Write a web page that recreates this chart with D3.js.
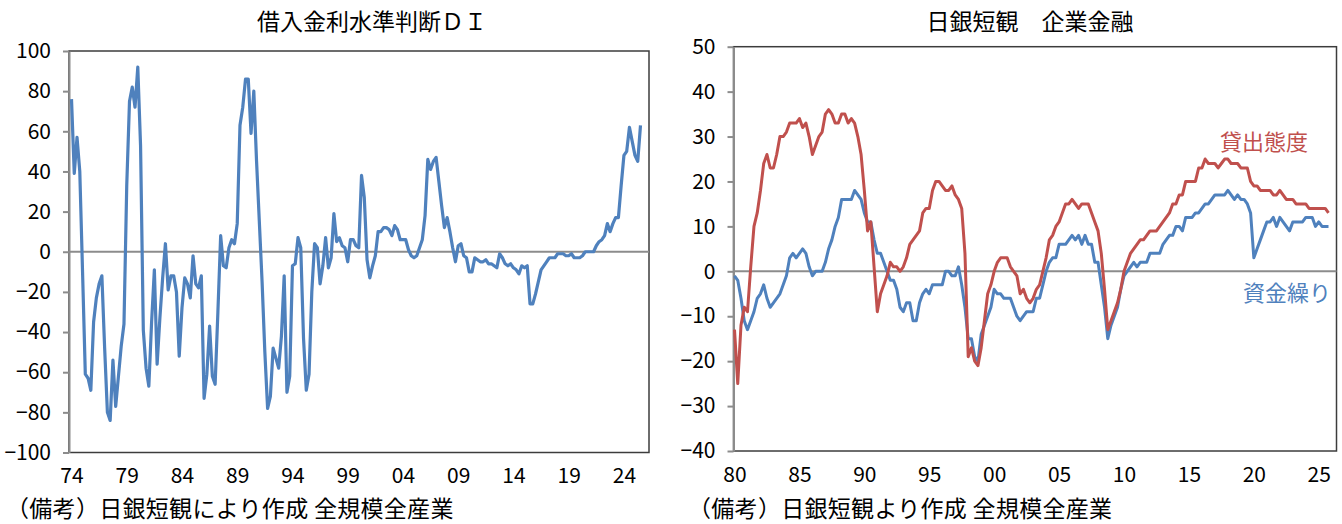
<!DOCTYPE html>
<html>
<head>
<meta charset="utf-8">
<script src="https://cdn.jsdelivr.net/npm/d3@7"></script>
<style>
  body { margin: 0; background: #fff; }
  svg text { font-family: "Noto Sans CJK JP", sans-serif; fill: #000; }
</style>
</head>
<body>
<svg id="canvas" width="1342" height="524"></svg>
<script>
// 借入金利水準判断DI, quarterly from 1974
let rateTicks = ['74', '79', '84', '89', '94', '99', '04', '09', '14', '19', '24']
let rateYTicks = [-100, -80, -60, -40, -20, 0, 20, 40, 60, 80, 100]
let rateDI = [76, 39, 57, 40, -10, -61, -63, -69, -35, -23,
    -16, -12, -48, -80, -84, -54, -77, -62, -47, -36,
    33, 75, 82, 72, 92, 53, -39, -58, -67, -35,
    -9, -56, -33, -13, 4, -19, -12, -12, -20, -52,
    -28, -13, -16, -23, -2, -16, -18, -12, -73, -61,
    -37, -62, -66, -30, 8, -7, -8, 2, 6, 4,
    14, 63, 72, 86, 86, 59, 80, 45, 15, -15,
    -50, -78, -72, -48, -53, -58, -42, -12, -70, -62,
    -7, -6, 7, 2, -43, -69, -61, -20, 4, 2,
    -16, -7, 7, -8, -3, 19, 5, 7, 3, 2,
    -5, 6, 6, 3, 2, 38, 27, -4, -13, -7,
    -2, 10, 10, 12, 12, 11, 8, 13, 11, 6,
    6, 6, 1, -2, -3, -2, 2, 6, 18, 46,
    41, 45, 47, 35, 23, 12, 17, 10, 2, -5,
    3, 4, -2, -3, -10, -10, -3, -4, -5, -5,
    -4, -6, -6, -7, -8, -1, -3, -6, -7, -6,
    -8, -9, -11, -7, -8, -7, -26, -26, -21, -15,
    -9, -7, -5, -3, -3, -3, -1, -1, -1, -2,
    -2, -1, -3, -3, -3, -2, 0, 0, 0, 0,
    3, 5, 6, 8, 14, 10, 14, 17, 17, 33,
    48, 50, 62, 55, 48, 45, 63]

// 日銀短観 企業金融, quarterly from 1980
let tankanTicks = ['80', '85', '90', '95', '00', '05', '10', '15', '20', '25']
let tankanYTicks = [-40, -30, -20, -10, 0, 10, 20, 30, 40, 50]
let lendingDI = [-13, -25, -12, -8, -9, 1, 10, 13, 18, 24,
    26, 23, 23, 26, 30, 30, 31, 33, 33, 33,
    34, 32, 33, 30, 26, 28, 30, 31, 35, 36,
    35, 33, 33, 35, 35, 33, 34, 33, 30, 26,
    18, 9, 11, 1, -9, -5, -3, -1, 2, 1,
    1, 0, 1, 3, 6, 7, 8, 9, 13, 14,
    14, 18, 20, 20, 19, 18, 18, 19, 17, 16,
    14, 4, -19, -17, -20, -21, -17, -11, -5, -3,
    0, 2, 3, 3, 3, 1, 0, -1, -5, -4,
    -6, -7, -6, -4, -3, 0, 3, 7, 8, 10,
    11, 13, 15, 15, 16, 15, 14, 15, 15, 15,
    13, 11, 9, 4, -4, -13, -11, -9, -7, -4,
    0, 2, 4, 5, 6, 7, 7, 8, 9, 9,
    9, 10, 11, 12, 13, 15, 15, 17, 17, 20,
    20, 20, 20, 23, 23, 25, 24, 24, 24, 23,
    24, 25, 25, 24, 24, 24, 23, 23, 23, 20,
    19, 19, 18, 18, 18, 18, 17, 17, 18, 17,
    16, 16, 16, 15, 15, 15, 15, 14, 14, 14,
    14, 14, 14, 13]
let fundsDI = [-1, -2, -6, -11, -13, -11, -9, -6, -5, -3,
    -6, -8, -7, -6, -5, -3, -1, 3, 4, 3,
    4, 5, 4, 1, -1, 0, 0, 0, 2, 5,
    7, 10, 12, 16, 16, 16, 16, 18, 17, 16,
    13, 11, 11, 7, 4, 4, 2, 0, -2, -2,
    -4, -8, -9, -7, -7, -11, -11, -7, -5, -4,
    -5, -3, -3, -3, -3, 0, 0, -1, -1, 1,
    -3, -8, -15, -15, -19, -20, -14, -12, -10, -8,
    -4, -5, -5, -6, -6, -6, -8, -10, -11, -10,
    -9, -9, -9, -6, -6, -3, 0, 2, 3, 3,
    6, 6, 6, 7, 8, 7, 8, 6, 8, 6,
    6, 2, 2, -3, -8, -15, -12, -10, -8, -4,
    -1, 0, 1, 2, 1, 2, 2, 2, 4, 4,
    4, 4, 6, 7, 8, 8, 10, 10, 9, 12,
    12, 12, 13, 13, 14, 15, 15, 16, 17, 17,
    17, 17, 18, 17, 16, 17, 16, 16, 15, 13,
    3, 5, 7, 9, 11, 11, 12, 10, 12, 11,
    10, 9, 11, 11, 11, 11, 12, 12, 12, 10,
    11, 10, 10, 10]

let canvas = d3.select('#canvas')

let drawPanel = (p) => {
    let n = p.series[0].values.length
    let x = d3.scaleLinear().domain([0, n - 1]).range([p.xFirst, p.xLast])
    let y = d3.scaleLinear().domain(p.yDomain).range([p.bottom, p.top])
    let g = canvas.append('g')

    // plot frame
    g.append('rect')
        .attr('x', p.left).attr('y', p.top)
        .attr('width', p.right - p.left).attr('height', p.bottom - p.top)
        .attr('fill', 'none').attr('stroke', '#3c3c3c').attr('stroke-width', 1.5)

    // zero line
    g.append('line')
        .attr('x1', p.left).attr('x2', p.right)
        .attr('y1', y(0)).attr('y2', y(0))
        .attr('stroke', '#8c8c8c').attr('stroke-width', 2)

    // value axis
    g.append('g')
        .attr('transform', `translate(${p.left},0)`)
        .call(d3.axisLeft(y).tickValues(p.yTicks).tickSize(6).tickSizeOuter(0).tickPadding(12))
        .call(a => a.attr('font-size', null).attr('font-family', null))
        .call(a => a.select('.domain').attr('stroke', '#8c8c8c').attr('stroke-width', 2))
        .call(a => a.selectAll('.tick line').attr('stroke', '#8c8c8c').attr('stroke-width', 2))
        .call(a => a.selectAll('.tick text').style('font-size', '21px'))

    // category labels, one every 5 years
    g.append('g')
        .attr('transform', `translate(0,${p.bottom + 16})`)
        .call(d3.axisBottom(x).tickValues(p.xTicks.map((d, i) => i * 20))
            .tickFormat((d, i) => p.xTicks[i]).tickSize(0).tickPadding(0))
        .call(a => a.attr('font-size', null).attr('font-family', null))
        .call(a => a.select('.domain').remove())
        .call(a => a.selectAll('.tick text').style('font-size', '21px'))

    let line = d3.line().x((d, i) => x(i)).y(d => y(d))
    p.series.forEach(s => {
        g.append('path')
            .datum(s.values)
            .attr('d', line)
            .attr('fill', 'none')
            .attr('stroke', s.color)
            .attr('stroke-width', p.lineWidth)
            .attr('stroke-linejoin', 'round')
    })

    g.append('text')
        .attr('x', p.titleX).attr('y', 30)
        .attr('text-anchor', 'middle')
        .style('font-size', '23px')
        .text(p.title)

    g.append('text')
        .attr('x', p.footerX).attr('y', 517)
        .style('font-size', '23px').style('letter-spacing', '0.3px')
        .text(p.footer)
    return { x, y, g }
}

drawPanel({
    left: 69, right: 649, top: 51, bottom: 452.5,
    xFirst: 71.5, xLast: 640.5,
    yDomain: [-100, 100], yTicks: rateYTicks, xTicks: rateTicks,
    series: [{ values: rateDI, color: '#4f81bd' }],
    lineWidth: 3.2,
    title: '借入金利水準判断ＤＩ', titleX: 372,
    footer: '（備考）日銀短観により作成 全規模全産業', footerX: 6
})

let right = drawPanel({
    left: 733.5, right: 1336.5, top: 46.7, bottom: 451,
    xFirst: 734.5, xLast: 1328.5,
    yDomain: [-40, 50], yTicks: tankanYTicks, xTicks: tankanTicks,
    series: [{ values: fundsDI, color: '#4f81bd' }, { values: lendingDI, color: '#c0504d' }],
    lineWidth: 3,
    title: '日銀短観　企業金融', titleX: 1030,
    footer: '（備考）日銀短観より作成 全規模全産業', footerX: 688
})

// series labels
right.g.append('text')
    .attr('x', 1220).attr('y', 150)
    .style('font-size', '22px').style('fill', '#c0504d')
    .text('貸出態度')
right.g.append('text')
    .attr('x', 1243).attr('y', 301)
    .style('font-size', '22px').style('fill', '#4f81bd')
    .text('資金繰り')
</script>
</body>
</html>
